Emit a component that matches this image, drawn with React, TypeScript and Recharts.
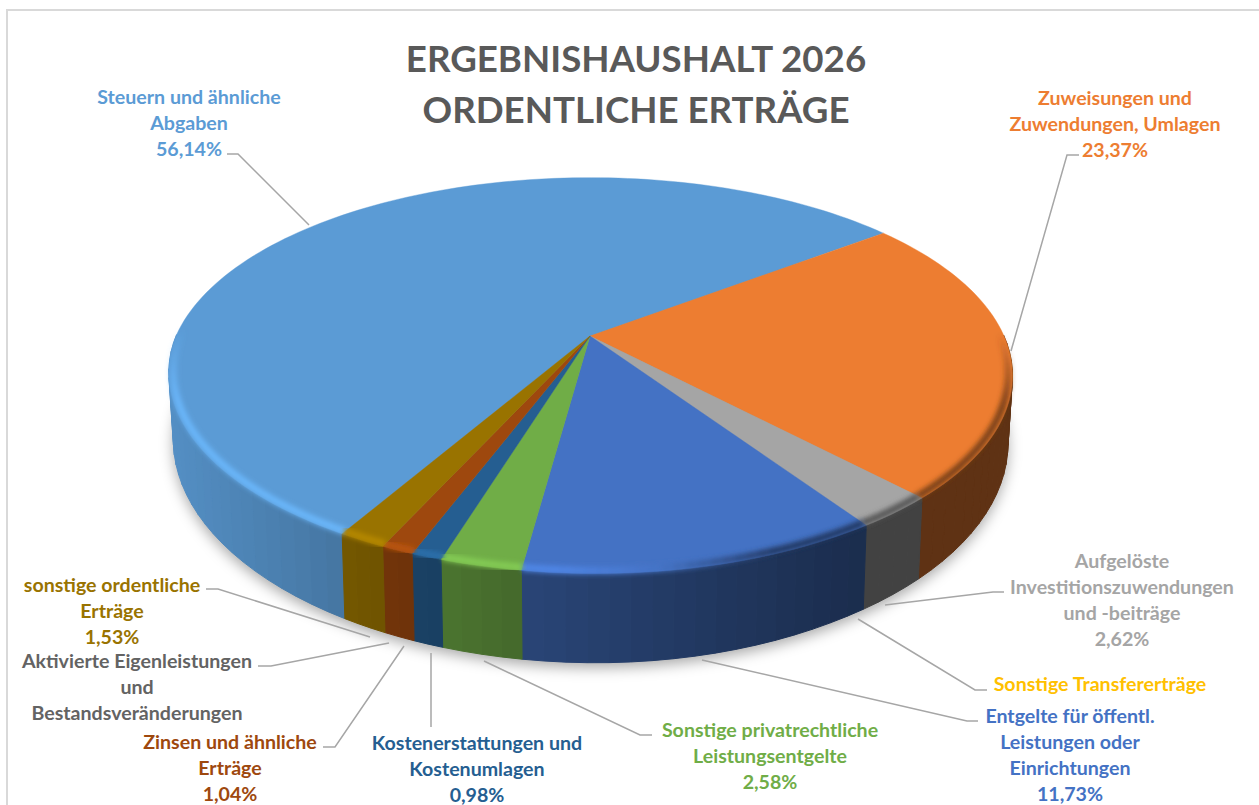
import { PieChart, Pie } from 'recharts';

const categories = [
  'Steuern und ähnliche Abgaben',
  'Zuweisungen und Zuwendungen, Umlagen',
  'Aufgelöste Investitionszuwendungen und -beiträge',
  'Sonstige Transfererträge',
  'Entgelte für öffentl. Leistungen oder Einrichtungen',
  'Sonstige privatrechtliche Leistungsentgelte',
  'Kostenerstattungen und Kostenumlagen',
  'Zinsen und ähnliche Erträge',
  'Aktivierte Eigenleistungen und Bestandsveränderungen',
  'sonstige ordentliche Erträge',
];
const shares = [56.14, 23.37, 2.62, 0, 11.73, 2.58, 0.98, 1.04, 0, 1.53];
const colors = ['#5B9BD5', '#ED7D31', '#A5A5A5', '#FFC000', '#4472C4', '#70AD47', '#255E91', '#9E480E', '#636363', '#997300'];

const labelLines = [
  ['Steuern und ähnliche', 'Abgaben', '56,14%'],
  ['Zuweisungen und', 'Zuwendungen, Umlagen', '23,37%'],
  ['Aufgelöste', 'Investitionszuwendungen', 'und -beiträge', '2,62%'],
  ['Sonstige Transfererträge'],
  ['Entgelte für öffentl.', 'Leistungen oder', 'Einrichtungen', '11,73%'],
  ['Sonstige privatrechtliche', 'Leistungsentgelte', '2,58%'],
  ['Kostenerstattungen und', 'Kostenumlagen', '0,98%'],
  ['Zinsen und ähnliche', 'Erträge', '1,04%'],
  ['Aktivierte Eigenleistungen', 'und', 'Bestandsveränderungen'],
  ['sonstige ordentliche', 'Erträge', '1,53%'],
];
// label centre x and the middle of the first line
const labelAnchors = [[189, 96], [1115, 97], [1122, 560], [1100, 683], [1070, 715], [770, 729], [477, 742], [230, 741], [137, 660], [112, 584]];
const leaders = [
  '227,154 238,154 309,225',
  '1079,155 1067,155 1011,351',
  '1004,592 993,592 885,605',
  '987,690 975,690 858,619',
  '978,721 967,721 702,660',
  '652,735 640,735 484,661',
  '431,727 431,653',
  '323,747 335,747 404,646',
  '258,666 271,666 389,643',
  '206,589 218,589 370,637',
];

const pieData = categories.map((name, i) => ({ name, value: shares[i], fill: colors[i] }));
const shadowData = [{ name: 'shadow', value: 1 }];

const FONT = 'Lato, sans-serif';

// perspective of the disc: unit circle -> screen, top face and bottom face
const K = 0.2;
const SKEW = 7;
const topFace = { c: 414, a: 190, y0: 336 };
const bottomFace = { c: 409.6, a: 211, y0: 399 };

function project(face: typeof topFace, cx: number, deg: number, r = 1) {
  const rad = (deg * Math.PI) / 180;
  const u = r * Math.cos(rad);
  const v = -r * Math.sin(rad);
  const w = 1 - K * v;
  // the front left of the disc sits a little further right than the perspective alone gives
  const lean = SKEW * Math.max(0, v) * Math.max(0, Math.min(1, (0.5 - u) / 0.6));
  return { x: cx + (face.c * u) / w + lean, y: face.y0 + (face.a * v) / w, v };
}

function arcAngles(start: number, end: number, step = 1.5) {
  const n = Math.max(1, Math.ceil(Math.abs(end - start) / step));
  const out: number[] = [];
  for (let i = 0; i <= n; i++) out.push(start + ((end - start) * i) / n);
  return out;
}

function shade(hex: string, m: number) {
  const n = parseInt(hex.slice(1), 16);
  const f = (c: number) => Math.round(Math.min(255, c * m));
  return `rgb(${f((n >> 16) & 255)},${f((n >> 8) & 255)},${f(n & 255)})`;
}

// how dark the side wall gets from left to right
function wallLight(x: number) {
  const stops = [[170, 0.92], [340, 0.76], [480, 0.64], [530, 0.6], [850, 0.4], [1010, 0.4]];
  for (let i = 1; i < stops.length; i++) {
    if (x <= stops[i][0]) {
      const t = (x - stops[i - 1][0]) / (stops[i][0] - stops[i - 1][0]);
      return stops[i - 1][1] + Math.max(0, t) * (stops[i][1] - stops[i - 1][1]);
    }
  }
  return 0.4;
}

function WallSlice(props: any) {
  const { cx, startAngle, endAngle, fill } = props;
  if (startAngle === endAngle) return <g />;
  const angles = arcAngles(startAngle, endAngle, 2.5);
  return (
    <g>
      {angles.slice(1).map((a, i) => {
        const p1 = project(topFace, cx, angles[i]);
        const p2 = project(topFace, cx, a);
        // the back of the wall is hidden behind the top face
        if (p1.v < 0.03 && p2.v < 0.03) return null;
        const q1 = project(bottomFace, cx, angles[i]);
        const q2 = project(bottomFace, cx, a);
        const col = shade(fill, wallLight((p1.x + p2.x) / 2));
        return (
          <polygon
            key={i}
            points={`${p1.x},${p1.y} ${p2.x},${p2.y} ${q2.x},${q2.y} ${q1.x},${q1.y}`}
            fill={col}
            stroke={col}
            strokeWidth={1}
          />
        );
      })}
    </g>
  );
}

function TopSlice(props: any) {
  const { cx, cy, startAngle, endAngle, fill } = props;
  if (startAngle === endAngle) return <g />;
  const angles = arcAngles(startAngle, endAngle);
  const pts = angles.map((a) => project(topFace, cx, a));
  const d = `M${cx},${cy} ` + pts.map((p) => `L${p.x},${p.y}`).join(' ') + ' Z';
  return <path d={d} fill={fill} stroke={fill} strokeWidth={0.4} />;
}

// soft bevel along the front rim: bright on the left, dark on the right
function RimSlice(props: any) {
  const { cx, startAngle, endAngle, fill } = props;
  if (startAngle === endAngle) return <g />;
  const angles = arcAngles(startAngle, endAngle);
  return (
    <g filter="url(#rimBlur)">
      {angles.slice(1).map((a, i) => {
        const p1 = project(topFace, cx, angles[i], 0.99);
        const p2 = project(topFace, cx, a, 0.99);
        const fade = Math.max(0, Math.min(1, (p1.v + 0.02) / 0.35));
        if (fade === 0) return null;
        const t = Math.max(0, Math.min(1, (p1.x - 560) / 220));
        const col = t < 0.5 ? shade(fill, 1.18 - t * 0.36) : shade(fill, 1 - (t - 0.5) * 1);
        return (
          <line
            key={i}
            x1={p1.x}
            y1={p1.y}
            x2={p2.x}
            y2={p2.y}
            stroke={col}
            strokeOpacity={fade}
            strokeWidth={7}
          />
        );
      })}
    </g>
  );
}

function ShadowSlice(props: any) {
  const { cx } = props;
  const pts = arcAngles(0, 360, 3).map((a) => project(bottomFace, cx, a));
  const d = pts.map((p, i) => `${i ? 'L' : 'M'}${p.x},${p.y + 5}`).join(' ') + ' Z';
  return <path d={d} fill="#000" fillOpacity={0.34} filter="url(#shadowBlur)" />;
}

function SliceLabel(props: any) {
  const i = props.index;
  const lines = labelLines[i];
  const [x, y] = labelAnchors[i];
  return (
    <g>
      <polyline points={leaders[i]} fill="none" stroke="#A6A6A6" strokeWidth={1.5} />
      <text x={x} textAnchor="middle" fill={colors[i]} fontFamily={FONT} fontWeight={700} fontSize={19.6}>
        {lines.map((line, n) => (
          <tspan key={n} x={x} y={y + n * 26} dominantBaseline="central">
            {line}
          </tspan>
        ))}
      </text>
    </g>
  );
}

export default function App() {
  const pieProps = {
    dataKey: 'value',
    nameKey: 'name',
    cx: 590,
    cy: 336,
    outerRadius: 300,
    startAngle: 239.5,
    endAngle: -120.5,
    stroke: 'none',
    isAnimationActive: false,
    labelLine: false,
  };
  return (
    <div style={{ position: 'absolute', left: 0, top: 0, width: 1259, height: 805, overflow: 'hidden', background: '#fff' }}>
      <div style={{ position: 'absolute', left: 6, top: 9, width: 1300, height: 900, border: '2px solid #D9D9D9' }} />
      <div style={{ position: 'absolute', left: 0, top: 0 }}>
        <PieChart width={1259} height={805} margin={{ top: 0, right: 0, bottom: 0, left: 0 }}>
          <defs>
            <filter id="rimBlur" x="-20%" y="-20%" width="140%" height="140%">
              <feGaussianBlur stdDeviation="2.4" />
            </filter>
            <filter id="shadowBlur" x="-10%" y="-20%" width="120%" height="140%">
              <feGaussianBlur stdDeviation="7" />
            </filter>
          </defs>
          <text x={636} textAnchor="middle" fill="#595959" fontFamily={FONT} fontWeight={700} fontSize={36.7}>
            <tspan x={636} y={58} dominantBaseline="central">ERGEBNISHAUSHALT 2026</tspan>
            <tspan x={636} y={109} dominantBaseline="central">ORDENTLICHE ERTRÄGE</tspan>
          </text>
          <Pie {...pieProps} data={shadowData} shape={ShadowSlice} label={false} />
          <Pie {...pieProps} data={pieData} shape={WallSlice} label={false} />
          <Pie {...pieProps} data={pieData} shape={TopSlice} label={false} />
          <Pie {...pieProps} data={pieData} shape={RimSlice} label={SliceLabel} />
        </PieChart>
      </div>
    </div>
  );
}
